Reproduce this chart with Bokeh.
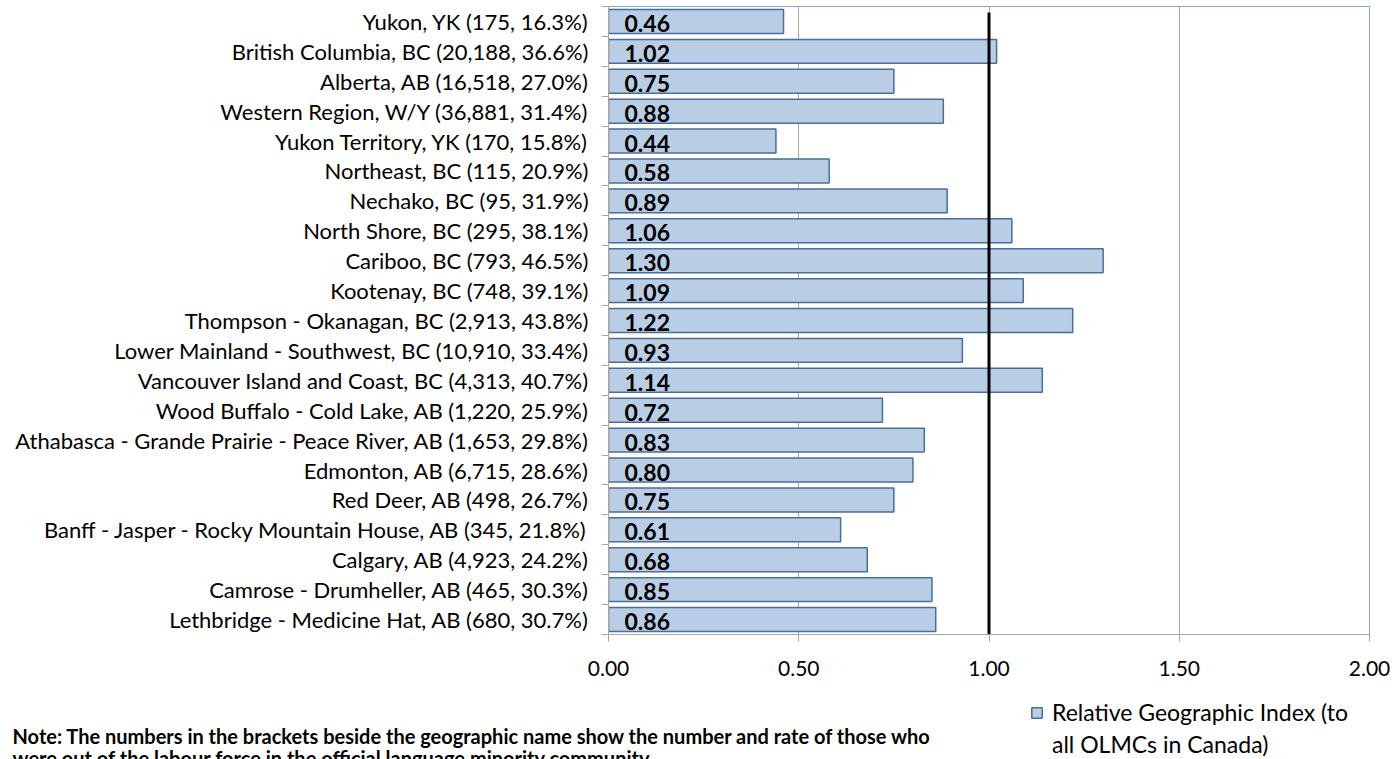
from bokeh.plotting import figure
from bokeh.layouts import column, row
from bokeh.models import (Range1d, FixedTicker, NumeralTickFormatter, ColumnDataSource,
                          Legend, LegendItem)
from bokeh.core.properties import value
from bokeh.embed import file_html
from bokeh.resources import INLINE

categories = [
    "Yukon, YK (175, 16.3%)",
    "British Columbia, BC (20,188, 36.6%)",
    "Alberta, AB (16,518, 27.0%)",
    "Western Region, W/Y (36,881, 31.4%)",
    "Yukon Territory, YK (170, 15.8%)",
    "Northeast, BC (115, 20.9%)",
    "Nechako, BC (95, 31.9%)",
    "North Shore, BC (295, 38.1%)",
    "Cariboo, BC (793, 46.5%)",
    "Kootenay, BC (748, 39.1%)",
    "Thompson - Okanagan, BC (2,913, 43.8%)",
    "Lower Mainland - Southwest, BC (10,910, 33.4%)",
    "Vancouver Island and Coast, BC (4,313, 40.7%)",
    "Wood Buffalo - Cold Lake, AB (1,220, 25.9%)",
    "Athabasca - Grande Prairie - Peace River, AB (1,653, 29.8%)",
    "Edmonton, AB (6,715, 28.6%)",
    "Red Deer, AB (498, 26.7%)",
    "Banff - Jasper - Rocky Mountain House, AB (345, 21.8%)",
    "Calgary, AB (4,923, 24.2%)",
    "Camrose - Drumheller, AB (465, 30.3%)",
    "Lethbridge - Medicine Hat, AB (680, 30.7%)",
]
index_values = [0.46, 1.02, 0.75, 0.88, 0.44, 0.58, 0.89, 1.06, 1.30, 1.09, 1.22,
                0.93, 1.14, 0.72, 0.83, 0.80, 0.75, 0.61, 0.68, 0.85, 0.86]
reference_value = 1.0
x_ticks = [0.0, 0.5, 1.0, 1.5, 2.0]
legend_lines = ["Relative Geographic Index (to", "all OLMCs in Canada)"]
note_lines = [
    "Note: The numbers in the brackets beside the geographic name show the number and rate of those who",
    "were out of the labour force in the official language minority community.",
]

n = len(categories)
ypos = [n - 1 - i for i in range(n)]
labels_txt = ["%.2f" % v for v in index_values]

src = ColumnDataSource(dict(y=ypos, v=index_values, cat=categories, lab=labels_txt,
                            x0=[0.0] * n))

FONT = "Lato"
BAR_FILL = "#B9CDE5"
BAR_LINE = "#4A6E9B"

p = figure(width=1395, height=684, output_backend="svg", toolbar_location=None,
           x_range=Range1d(0, 2), y_range=Range1d(-0.5, n - 0.5),
           min_border_left=608, min_border_right=26, min_border_top=6,
           min_border_bottom=50)
p.background_fill_color = "white"
p.border_fill_color = "white"
p.outline_line_color = "#7FA7D9"
p.outline_line_width = 1

p.ygrid.visible = False
p.xgrid.ticker = FixedTicker(ticks=x_ticks)
p.xgrid.grid_line_color = "#A6A6A6"
p.xgrid.grid_line_width = 1

p.xaxis.ticker = FixedTicker(ticks=x_ticks)
p.xaxis.formatter = NumeralTickFormatter(format="0.00")
p.xaxis.axis_line_color = "#A6A6A6"
p.xaxis.major_tick_line_color = "#A6A6A6"
p.xaxis.major_tick_out = 7
p.xaxis.major_tick_in = 0
p.xaxis.minor_tick_line_color = None
p.xaxis.major_label_text_font = FONT
p.xaxis.major_label_text_font_size = "21px"
p.xaxis.major_label_text_color = "#000000"
p.xaxis.major_label_standoff = 19

p.yaxis.ticker = FixedTicker(ticks=ypos, minor_ticks=[k - 0.5 for k in range(n + 1)])
p.yaxis.major_label_overrides = {y: c for y, c in zip(ypos, categories)}
p.yaxis.axis_line_color = "#A6A6A6"
p.yaxis.major_tick_line_color = None
p.yaxis.major_tick_out = 0
p.yaxis.major_tick_in = 0
p.yaxis.minor_tick_line_color = "#A6A6A6"
p.yaxis.minor_tick_out = 7
p.yaxis.minor_tick_in = 0
p.yaxis.major_label_text_font = FONT
p.yaxis.major_label_text_font_size = "22px"
p.yaxis.major_label_text_color = "#000000"
p.yaxis.major_label_standoff = 13

p.hbar(y="y", right="v", left=0, height=0.8, source=src,
       fill_color=BAR_FILL, line_color=BAR_LINE, line_width=1.5)

p.text(x="x0", y="y", text="lab", source=src, x_offset=16, y_offset=2,
       text_font=value(FONT), text_font_style="bold", text_font_size="23px",
       text_baseline="middle", text_align="left", text_color="#000000")

p.segment(x0=[reference_value], x1=[reference_value], y0=[n - 0.7], y1=[-0.5],
          line_color="#000000", line_width=3)

# lower panel: note + legend (a canvas of its own, data units = pixels)
q = figure(width=1395, height=75, output_backend="svg", toolbar_location=None,
           x_range=Range1d(0, 1395), y_range=Range1d(0, 75),
           x_axis_location=None, y_axis_location=None,
           min_border=0, min_border_left=0, min_border_right=0,
           min_border_top=0, min_border_bottom=0)
q.grid.visible = False
q.outline_line_color = None
q.background_fill_color = "white"
q.border_fill_color = "white"

# legend proxy renderers, kept outside the visible range
proxy = q.hbar(y=[-1000], right=[-990], left=-1000, height=1,
               fill_color=BAR_FILL, line_color=BAR_LINE, line_width=1.5)
blank = q.hbar(y=[-1000], right=[-990], left=-1000, height=1,
               fill_alpha=0, line_alpha=0)

legend = Legend(items=[LegendItem(label=legend_lines[0], renderers=[proxy]),
                       LegendItem(label=legend_lines[1], renderers=[blank])],
                location=(1030, 1), orientation="vertical",
                label_text_font=FONT, label_text_font_size="23px",
                label_text_color="#000000", spacing=4,
                glyph_width=13, glyph_height=13, label_standoff=9,
                padding=0, margin=0, border_line_color=None,
                background_fill_alpha=0)
q.add_layout(legend, "center")

for k, line in enumerate(note_lines):
    q.text(x=[12], y=[24 - 22 * k], text=[line], text_font=value(FONT),
           text_font_style="bold", text_font_size="20px", text_baseline="middle",
           text_align="left", text_color="#000000")

layout = column(p, row(q))
open("out.html", "w").write(file_html(layout, INLINE))
